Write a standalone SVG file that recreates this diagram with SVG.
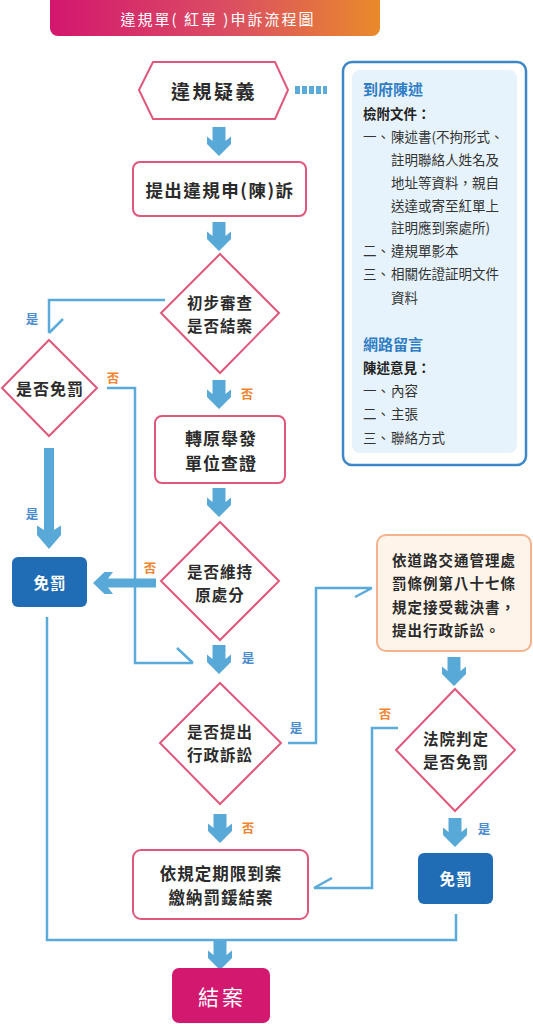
<svg xmlns="http://www.w3.org/2000/svg" width="533" height="1024" viewBox="0 0 533 1024" lang="zh-TW" xml:lang="zh-TW">
<defs>
<linearGradient id="tg" x1="0" y1="0" x2="1" y2="0">
<stop offset="0" stop-color="#D3166F"/>
<stop offset="0.55" stop-color="#DB4F62"/>
<stop offset="1" stop-color="#E98A2B"/>
</linearGradient>
<path id="ad" d="M-6.5,0 H6.5 V14 L12,9.5 V17 L0,29 L-12,17 V9.5 L-6.5,14 Z"/>
<style>
text{font-family:"Noto Sans CJK TC","Noto Sans CJK SC",sans-serif;dominant-baseline:central;}
.node{fill:#fff;stroke:#E0577C;stroke-width:2;}
.t{font-size:16px;font-weight:bold;fill:#2b2b2b;text-anchor:middle;letter-spacing:1px;}
.d{font-size:15.5px;font-weight:bold;fill:#2b2b2b;text-anchor:middle;letter-spacing:1px;}
.w{font-size:15.5px;font-weight:bold;fill:#fff;text-anchor:middle;letter-spacing:1px;}
.blue{fill:#216DB5;}
.arrow{fill:#58A9D8;}
.conn{fill:none;stroke:#5AAADA;stroke-width:2.5;stroke-linejoin:miter;}
.yes{font-size:12.5px;font-weight:bold;fill:#4A8CD0;text-anchor:middle;}
.no{font-size:12.5px;font-weight:bold;fill:#F0842F;text-anchor:middle;}
.ib{font-size:13.5px;fill:#333;}
.ih{font-size:13.5px;font-weight:bold;fill:#222;}
.ibl{font-size:15px;font-weight:bold;fill:#2F7DC4;}
.lt{font-size:14.5px;font-weight:bold;fill:#2b2b2b;letter-spacing:1px;}
</style>
</defs>

<g id="title">
<rect x="50" y="-8" width="330" height="44" rx="8" fill="url(#tg)"/>
<text x="218" y="18" style="font-size:15px;fill:#fff;text-anchor:middle;letter-spacing:2px;">違規單( 紅單 )申訴流程圖</text>
</g>

<g id="connectors">
<line x1="295" y1="90" x2="327" y2="90" stroke="#5AAADA" stroke-width="8" stroke-dasharray="5 2"/>
<path class="conn" d="M165,300 H49 V333 M49,333 L63,319"/>
<path class="conn" d="M107,388 H135 V663 H193 M193,663 L177,648"/>
<path class="conn" d="M47,617 V940 H456 V914"/>
<path class="conn" d="M288,743 H316 V588 H372 M372,588 L355,597"/>
<path class="conn" d="M398,728 H372 V888 H314 M314,888 L332,878"/>
<use href="#ad" class="arrow" transform="translate(219,127)"/>
<use href="#ad" class="arrow" transform="translate(219,222)"/>
<use href="#ad" class="arrow" transform="translate(219,380)"/>
<use href="#ad" class="arrow" transform="translate(219,488)"/>
<use href="#ad" class="arrow" transform="translate(219,645)"/>
<use href="#ad" class="arrow" transform="translate(220,814)"/>
<use href="#ad" class="arrow" transform="translate(220,941)"/>
<use href="#ad" class="arrow" transform="translate(454,657)"/>
<use href="#ad" class="arrow" transform="translate(455,818)"/>
<path class="arrow" d="M44,448 H54 V530 L61,525.5 V535 L49,549 L37,535 V525.5 L44,530 Z"/>
<path class="arrow" d="M156,578.5 V587.5 H108 L113,594 H104.5 L93,583 L104.5,572 H113 L108,578.5 Z"/>
<text class="yes" x="32" y="318">是</text>
<text class="no" x="113" y="377">否</text>
<text class="no" x="247" y="393">否</text>
<text class="yes" x="32" y="513">是</text>
<text class="no" x="150" y="567">否</text>
<text class="yes" x="248" y="657">是</text>
<text class="yes" x="296" y="727">是</text>
<text class="no" x="385" y="713">否</text>
<text class="no" x="248" y="827">否</text>
<text class="yes" x="484" y="828">是</text>
</g>

<g id="n-suspect">
<polygon class="node" points="139,90 153,62 275,62 288,90 275,119 153,119"/>
<text class="t" x="214" y="90" style="font-size:19px;letter-spacing:2.5px;">違規疑義</text>
</g>

<g id="n-info">
<rect x="343" y="62" width="183" height="403" rx="9" fill="#fff" stroke="#3D86C8" stroke-width="2.5"/>
<rect x="352" y="70" width="165" height="383" rx="8" fill="#E7F3FC"/>
<text class="ibl" x="363" y="88">到府陳述</text>
<text class="ih" x="363" y="113">檢附文件：</text>
<text class="ib" x="363" y="136">一、</text>
<text class="ib" x="391" y="136">陳述書(不拘形式、</text>
<text class="ib" x="391" y="159">註明聯絡人姓名及</text>
<text class="ib" x="391" y="182">地址等資料，親自</text>
<text class="ib" x="391" y="205">送達或寄至紅單上</text>
<text class="ib" x="391" y="227">註明應到案處所)</text>
<text class="ib" x="363" y="250">二、</text>
<text class="ib" x="391" y="250">違規單影本</text>
<text class="ib" x="363" y="273">三、</text>
<text class="ib" x="391" y="273">相關佐證証明文件</text>
<text class="ib" x="391" y="297">資料</text>
<text class="ibl" x="363" y="343">網路留言</text>
<text class="ih" x="363" y="367">陳述意見：</text>
<text class="ib" x="363" y="390">一、</text>
<text class="ib" x="391" y="390">內容</text>
<text class="ib" x="363" y="413">二、</text>
<text class="ib" x="391" y="413">主張</text>
<text class="ib" x="363" y="437">三、</text>
<text class="ib" x="391" y="437">聯絡方式</text>
</g>

<g id="n-appeal">
<rect class="node" x="133" y="162" width="173" height="54" rx="7"/>
<text class="t" x="220" y="189" style="font-size:17.5px;letter-spacing:1.5px;">提出違規申(陳)訴</text>
</g>

<g id="n-review">
<polygon class="node" points="220,254 279,313 220,373 161,313"/>
<text class="d" x="220" y="301.5">初步審查</text>
<text class="d" x="220" y="324.5">是否結案</text>
</g>

<g id="n-exempt1">
<polygon class="node" points="49,340 97,388 49,436 2,388"/>
<text class="t" x="50" y="388">是否免罰</text>
</g>

<g id="n-transfer">
<rect class="node" x="155" y="416" width="130" height="67" rx="7"/>
<text class="t" x="221" y="437" style="font-size:17px;">轉原舉發</text>
<text class="t" x="221" y="462" style="font-size:17px;">單位查證</text>
</g>

<g id="n-maintain">
<polygon class="node" points="220,522 279,581 220,640 161,581"/>
<text class="d" x="220" y="570.5">是否維持</text>
<text class="d" x="220" y="593.5">原處分</text>
</g>

<g id="n-free1">
<rect class="blue" x="12" y="557" width="75" height="50" rx="6"/>
<text class="w" x="50" y="582">免罰</text>
</g>

<g id="n-lawsuit">
<polygon class="node" points="220,683 281,743 220,804 160,743"/>
<text class="d" x="220" y="731">是否提出</text>
<text class="d" x="220" y="754">行政訴訟</text>
</g>

<g id="n-law">
<rect x="377" y="535" width="154" height="116" rx="9" fill="#FEF4EA" stroke="#F4B28D" stroke-width="2"/>
<text class="lt" x="392" y="559">依道路交通管理處</text>
<text class="lt" x="392" y="582">罰條例第八十七條</text>
<text class="lt" x="392" y="606">規定接受裁決書，</text>
<text class="lt" x="392" y="629">提出行政訴訟。</text>
</g>

<g id="n-court">
<polygon class="node" points="455,689 515,750 455,811 396,750"/>
<text class="d" x="456" y="738">法院判定</text>
<text class="d" x="456" y="761">是否免罰</text>
</g>

<g id="n-free2">
<rect class="blue" x="418" y="853" width="75" height="51" rx="6"/>
<text class="w" x="456" y="878">免罰</text>
</g>

<g id="n-pay">
<rect class="node" x="133" y="850" width="175" height="69" rx="8"/>
<text class="t" x="221" y="873" style="font-size:16.5px;">依規定期限到案</text>
<text class="t" x="221" y="897" style="font-size:16.5px;">繳納罰鍰結案</text>
</g>

<g id="n-end">
<rect x="172" y="968" width="98" height="55" rx="7" fill="#D3186F"/>
<text class="w" x="222" y="996" style="font-size:21px;letter-spacing:3px;font-weight:normal;">結案</text>
</g>
</svg>
